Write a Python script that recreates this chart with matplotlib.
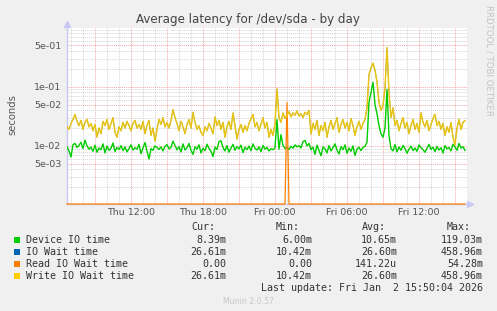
import numpy as np
import matplotlib
matplotlib.use("Agg")
import matplotlib.pyplot as plt
import matplotlib.dates as mdates
from matplotlib.patches import Rectangle
from datetime import datetime, timedelta

# ---------- data: milliseconds, one value per 10 min from Thu 06:40 ----------

start = datetime(2026, 1, 1, 6, 40)
step_min = 10

device_io = [
    9.6, 8.2, 6.5, 10.5, 11.0, 9.4, 10.2, 11.5, 9.0, 12.5,
    10.0, 8.8, 9.5, 8.1, 10.3, 7.8, 9.2, 8.6, 10.8, 7.6,
    9.9, 8.4, 9.1, 11.2, 8.0, 9.4, 8.7, 10.1, 8.3, 9.6,
    7.9, 9.0, 10.4, 8.5, 9.3, 8.8, 10.6, 7.4, 9.2, 11.4,
    8.1, 6.0, 9.0, 8.4, 10.0, 9.3, 8.7, 9.6, 8.2, 9.8,
    10.5, 8.9, 9.4, 12.0, 10.2, 8.6, 9.7, 7.9, 10.8, 8.5,
    9.3, 11.0, 8.4, 7.2, 9.6, 8.8, 10.4, 7.6, 9.1, 8.3,
    10.7, 9.0, 8.1, 6.6, 9.5, 8.7, 11.8, 12.2, 9.4, 8.2,
    10.1, 7.8, 9.2, 10.6, 8.4, 9.7, 8.9, 10.3, 7.7, 9.5,
    8.6, 9.9, 8.3, 10.8, 9.1, 8.5, 9.6, 8.0, 10.2, 8.8,
    9.4, 8.2, 9.0, 8.6, 9.3, 28.0, 8.8, 15.5, 10.2, 9.0,
    9.5, 8.7, 9.8, 9.1, 10.4, 9.6, 10.1, 9.2, 11.8, 12.4,
    10.0, 11.0, 8.6, 9.5, 7.2, 10.3, 8.4, 6.8, 9.6, 8.9,
    7.6, 10.1, 8.2, 9.4, 10.8, 8.5, 7.3, 9.7, 8.6, 10.4,
    7.5, 9.2, 8.1, 10.0, 6.9, 8.8, 9.5, 8.3, 9.4, 9.8,
    11.5, 55, 80, 119.03, 50, 35, 22, 16, 14, 20,
    90, 15, 9.0, 8.2, 10.5, 7.9, 9.6, 8.4, 10.2, 9.0,
    7.5, 8.8, 9.9, 8.3, 9.2, 8.1, 10.4, 9.3, 8.6, 7.8,
    9.1, 10.6, 8.7, 9.5, 8.0, 9.8, 8.5, 9.3, 7.6, 10.1,
    8.9, 9.4, 8.2, 10.7, 9.6, 8.4, 11.0, 9.2, 9.7, 8.39,
]

write_wait = [
    21, 19, 24, 28, 34, 26, 22, 27, 19, 25,
    28, 21, 24, 18, 23, 14, 20, 16, 26, 22,
    28, 19, 24, 30, 17, 14, 21, 18, 25, 20,
    26, 22, 18, 24, 27, 20, 23, 19, 26, 16,
    22, 27, 15, 20, 12, 19, 28, 23, 30, 21,
    25, 20, 27, 41, 30, 24, 18, 26, 21, 16,
    23, 28, 20, 37, 25, 19, 22, 17, 15, 21,
    18, 24, 20, 16, 31, 22, 27, 19, 25, 14,
    21, 26, 19, 36, 22, 13, 19, 23, 17, 22,
    18, 24, 29, 34, 21, 25, 18, 23, 30, 20,
    25, 14, 19, 15, 24, 92, 30, 25, 36, 29,
    33, 38, 31, 36, 33, 39, 32, 35, 30, 37,
    34, 40, 16, 24, 19, 27, 15, 22, 18, 25,
    14, 21, 27, 19, 24, 30, 17, 23, 28, 20,
    25, 18, 29, 22, 15, 21, 26, 19, 24, 28,
    45, 160, 210, 250, 190, 120, 55, 40, 48, 95,
    458.96, 80, 30, 44, 22, 27, 18, 24, 30, 20,
    25, 16, 22, 28, 19, 24, 17, 36, 25, 21,
    27, 18, 23, 29, 34, 22, 26, 19, 24, 15,
    21, 17, 25, 14, 10.42, 20, 28, 19, 25, 26.61,
]

io_wait = list(write_wait)  # same as write wait (no reads)
read_wait = [0.0] * 110 + [54.28] + [0.0] * 89

names = ["Device IO time", "IO Wait time", "Read IO Wait time", "Write IO Wait time"]
colors = ["#00cc00", "#0066b3", "#ff8000", "#ffcc00"]
cur = ["8.39m", "26.61m", "0.00", "26.61m"]
mins = ["6.00m", "10.42m", "0.00", "10.42m"]
avgs = ["10.65m", "26.60m", "141.22u", "26.60m"]
maxs = ["119.03m", "458.96m", "54.28m", "458.96m"]

W, H = 497, 311
YBOT, YTOP = 1.04e-3, 0.985


def times(n):
    return [start + timedelta(minutes=step_min * i) for i in range(n)]


def fx(x):
    return x / W


def fy(y):
    return 1 - y / H


def hour_label(x, pos=None):
    d = mdates.num2date(x)
    if d.hour % 6 == 0:
        return d.strftime("%a %H:%M")
    return ""


def main():
    fig = plt.figure(figsize=(W / 100, H / 100), dpi=100, facecolor="#f0f0f0")
    ax = fig.add_axes([fx(67), fy(204), 400 / W, 176 / H])
    ax.set_facecolor("white")

    dev = np.array(device_io) / 1000
    iow = np.array(io_wait) / 1000
    wr = np.array(write_wait) / 1000
    rd = np.array(read_wait) / 1000
    rd = np.where(rd > 0, rd, YBOT)  # rrdtool puts zero on the bottom edge

    ax.plot(times(len(dev)), dev, color=colors[0], lw=1.0, zorder=3)
    ax.plot(times(len(iow)), iow, color=colors[1], lw=0.6, zorder=4)
    ax.plot(times(len(rd)), rd, color=colors[2], lw=0.9, zorder=5, clip_on=False)
    ax.plot(times(len(wr)), wr, color=colors[3], lw=1.1, alpha=0.88, zorder=6)

    ax.set_yscale("log")
    ax.set_ylim(YBOT, YTOP)
    ax.set_xlim(start, start + timedelta(hours=33, minutes=20))

    ax.set_yticks([5e-3, 1e-2, 5e-2, 1e-1, 5e-1])
    ax.set_yticklabels(["5e-03", "1e-02", "5e-02", "1e-01", "5e-01"])
    ax.set_yticks([k * 10.0 ** e for e in (-3, -2, -1) for k in (2, 3, 4, 6, 7, 8, 9)], minor=True)
    ax.yaxis.set_minor_formatter(plt.NullFormatter())

    ax.xaxis.set_major_locator(mdates.HourLocator(byhour=range(0, 24, 3)))
    ax.xaxis.set_minor_locator(mdates.HourLocator())
    ax.xaxis.set_major_formatter(plt.FuncFormatter(hour_label))

    ax.grid(which="major", color="#f0a8a8", linestyle=(0, (1, 1)), lw=0.7)
    ax.grid(which="minor", color="#d4d4d4", linestyle=(0, (1, 1)), lw=0.7)
    ax.set_axisbelow(True)

    ax.tick_params(which="both", length=0, labelsize=6.8, labelcolor="#555555")
    ax.tick_params(axis="x", pad=3)
    ax.tick_params(axis="y", pad=4)

    for s in ["top", "right"]:
        ax.spines[s].set_visible(False)
    for s in ["left", "bottom"]:
        ax.spines[s].set_color("#c8c8f4")
        ax.spines[s].set_linewidth(1.0)
    ax.plot([0], [1.025], marker="^", ms=4, color="#c8c8f4", transform=ax.transAxes, clip_on=False)
    ax.plot([1.008], [0], marker=">", ms=4, color="#c8c8f4", transform=ax.transAxes, clip_on=False)

    fig.text(fx(248), fy(19), "Average latency for /dev/sda - by day", ha="center", va="center",
             fontsize=8.6, color="#444444")
    fig.text(fx(12), fy(115), "seconds", rotation=90, ha="center", va="center", fontsize=7.2, color="#555555")
    fig.text(fx(489), fy(5), "RRDTOOL / TOBI OETIKER", rotation=270, ha="center", va="top",
             fontsize=6.2, color="#c4c4c4")

    # ---------- legend ----------
    mono = dict(family="DejaVu Sans Mono", fontsize=7.2, color="#333333", va="center")
    col_head = [191, 276, 362, 447]
    col_right = [226, 312, 397, 483]
    for x, t in zip(col_head, ["Cur:", "Min:", "Avg:", "Max:"]):
        fig.text(fx(x), fy(227), t, ha="left", **mono)

    for i, name in enumerate(names):
        y = 240 + 12 * i
        fig.add_artist(Rectangle((fx(14), fy(y + 3)), 6 / W, 6 / H, transform=fig.transFigure,
                                 facecolor=colors[i], edgecolor="none"))
        fig.text(fx(26), fy(y), name, ha="left", **mono)
        for x, v in zip(col_right, [cur[i], mins[i], avgs[i], maxs[i]]):
            fig.text(fx(x), fy(y), v, ha="right", **mono)

    fig.text(fx(483), fy(288), "Last update: Fri Jan  2 15:50:04 2026", ha="right", **mono)
    fig.text(fx(248), fy(301), "Munin 2.0.57", ha="center", va="center", fontsize=5.6, color="#c8c8c8")

    fig.savefig("out.png", dpi=100, facecolor=fig.get_facecolor())


if __name__ == "__main__":
    main()
